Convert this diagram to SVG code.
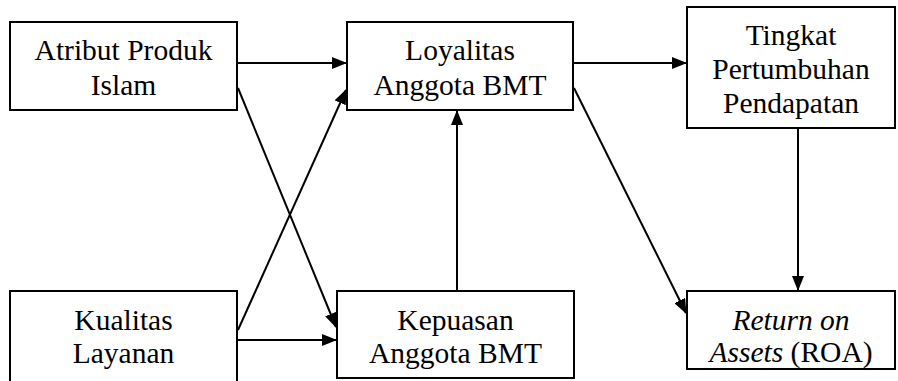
<svg xmlns="http://www.w3.org/2000/svg" width="898" height="381" viewBox="0 0 898 381">
<style>
.box{fill:#fff;stroke:#000;stroke-width:2}
.t{font-family:'Liberation Serif','Times New Roman',Times,'DejaVu Serif',serif;font-size:29.5px;fill:#000;text-anchor:middle}
.c{stroke:#000;stroke-width:2;fill:none;marker-end:url(#ah)}
</style>
<defs>
<marker id="ah" markerUnits="userSpaceOnUse" markerWidth="15" markerHeight="12" refX="14" refY="6" orient="auto">
<path d="M0,0 L15,6 L0,12 z" fill="#000"/>
</marker>
</defs>
<rect width="898" height="381" fill="#fff"/>
<g id="connectors">
<line class="c" x1="238" y1="63" x2="346" y2="63"/>
<line class="c" x1="238" y1="88" x2="336" y2="327"/>
<line class="c" x1="238" y1="330" x2="346" y2="90"/>
<line class="c" x1="238" y1="340" x2="336" y2="340"/>
<line class="c" x1="457" y1="291" x2="457" y2="111"/>
<line class="c" x1="574" y1="63" x2="686" y2="63"/>
<line class="c" x1="574" y1="88" x2="686" y2="313"/>
<line class="c" x1="798" y1="128" x2="798" y2="290"/>
</g>
<g id="atribut">
<rect class="box" x="10" y="22" width="227" height="88"/>
<text class="t" x="123.5" y="60">Atribut Produk</text>
<text class="t" x="123.5" y="95">Islam</text>
</g>
<g id="loyalitas">
<rect class="box" x="347" y="22" width="226" height="88"/>
<text class="t" x="460" y="60">Loyalitas</text>
<text class="t" x="460" y="95">Anggota BMT</text>
</g>
<g id="tingkat">
<rect class="box" x="687" y="7" width="208" height="121"/>
<text class="t" x="791" y="45">Tingkat</text>
<text class="t" x="791" y="79">Pertumbuhan</text>
<text class="t" x="791" y="113">Pendapatan</text>
</g>
<g id="kualitas">
<rect class="box" x="10" y="291" width="227" height="100"/>
<text class="t" x="123.5" y="330">Kualitas</text>
<text class="t" x="123.5" y="363">Layanan</text>
</g>
<g id="kepuasan">
<rect class="box" x="337" y="291" width="237" height="87"/>
<text class="t" x="455.5" y="330">Kepuasan</text>
<text class="t" x="455.5" y="363">Anggota BMT</text>
</g>
<g id="roa">
<rect class="box" x="687" y="291" width="208" height="78"/>
<text class="t" x="791" y="330" font-style="italic">Return on</text>
<text class="t" x="791" y="362"><tspan font-style="italic">Assets</tspan> (ROA)</text>
</g>
</svg>
